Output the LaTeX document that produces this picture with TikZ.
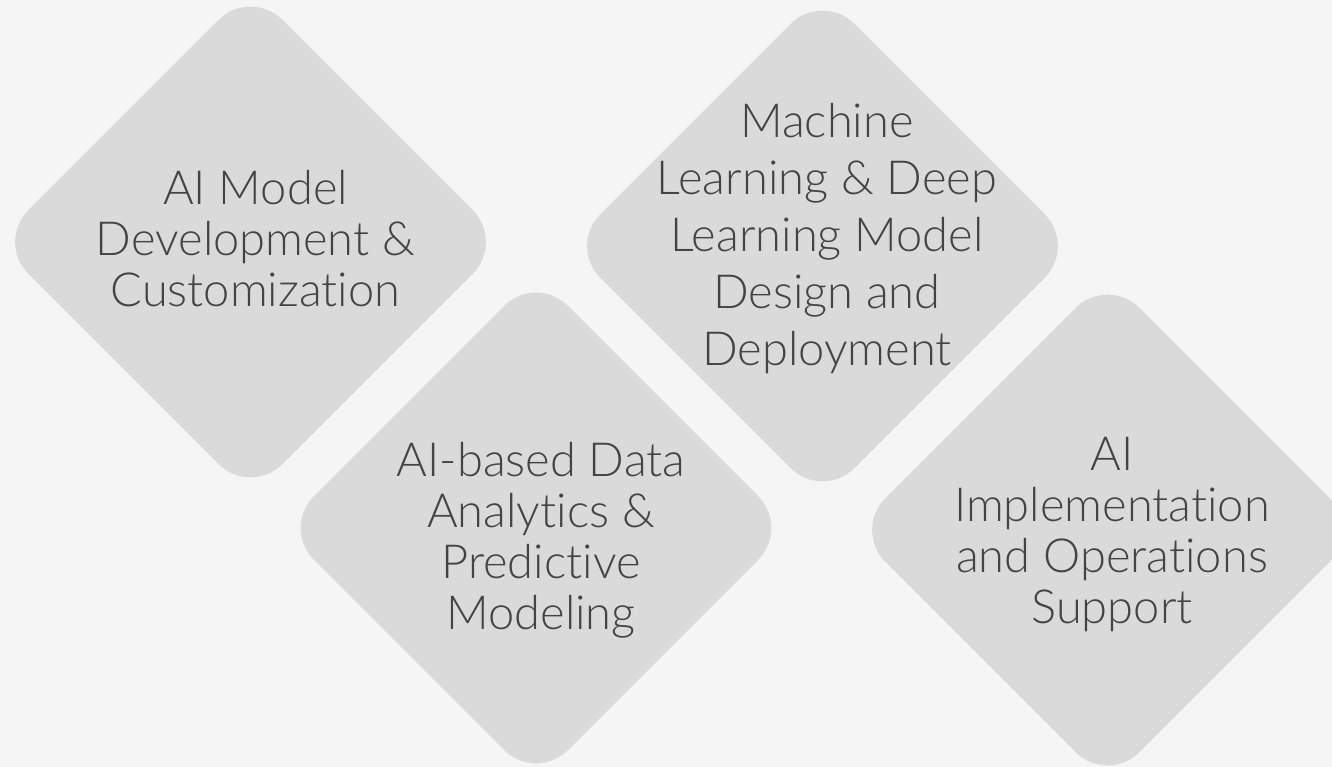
\documentclass[tikz,border=0pt]{standalone}
\usepackage{fontspec}
\setmainfont{Lato}[UprightFont={* Light}, Ligatures=NoCommon]
\definecolor{bgcol}{HTML}{F5F5F5}
\definecolor{diafill}{HTML}{DADADA}
\definecolor{txtcol}{HTML}{444444}
\begin{document}
\begin{tikzpicture}[x=1pt,y=-1pt,
  diabox/.style={fill=diafill, rounded corners=45pt},
  lbl/.style={text=txtcol, align=center, inner sep=0pt, font=\fontsize{47}{51}\selectfont},
  lblwide/.style={lbl, font=\fontsize{47}{57}\selectfont}]
\fill[bgcol] (0,0) rectangle (1332,767);
\useasboundingbox (0,0) rectangle (1332,767);
\coordinate (c1) at (250.5,242);
\coordinate (c2) at (536,528);
\coordinate (c3) at (822.5,246);
\coordinate (c4) at (1107.5,530);
\foreach \c in {c1,c2,c3,c4}{
  \fill[diabox] ([shift={(0,-254)}]\c) -- ([shift={(254,0)}]\c) -- ([shift={(0,254)}]\c) -- ([shift={(-254,0)}]\c) -- cycle;
}
\node[lbl] (t1) at (255.5,239) {AI Model\\Development \&\\Customization};
\node[lbl] (t2) at (541,540.5) {AI-based Data\\Analytics \&\\Predictive\\Modeling};
\node[lblwide] (t3) at (827,239) {Machine\\Learning \& Deep\\Learning Model\\Design and\\Deployment};
\node[lbl] (t4) at (1112,535) {AI\\Implementation\\and Operations\\Support};
\end{tikzpicture}
\end{document}
